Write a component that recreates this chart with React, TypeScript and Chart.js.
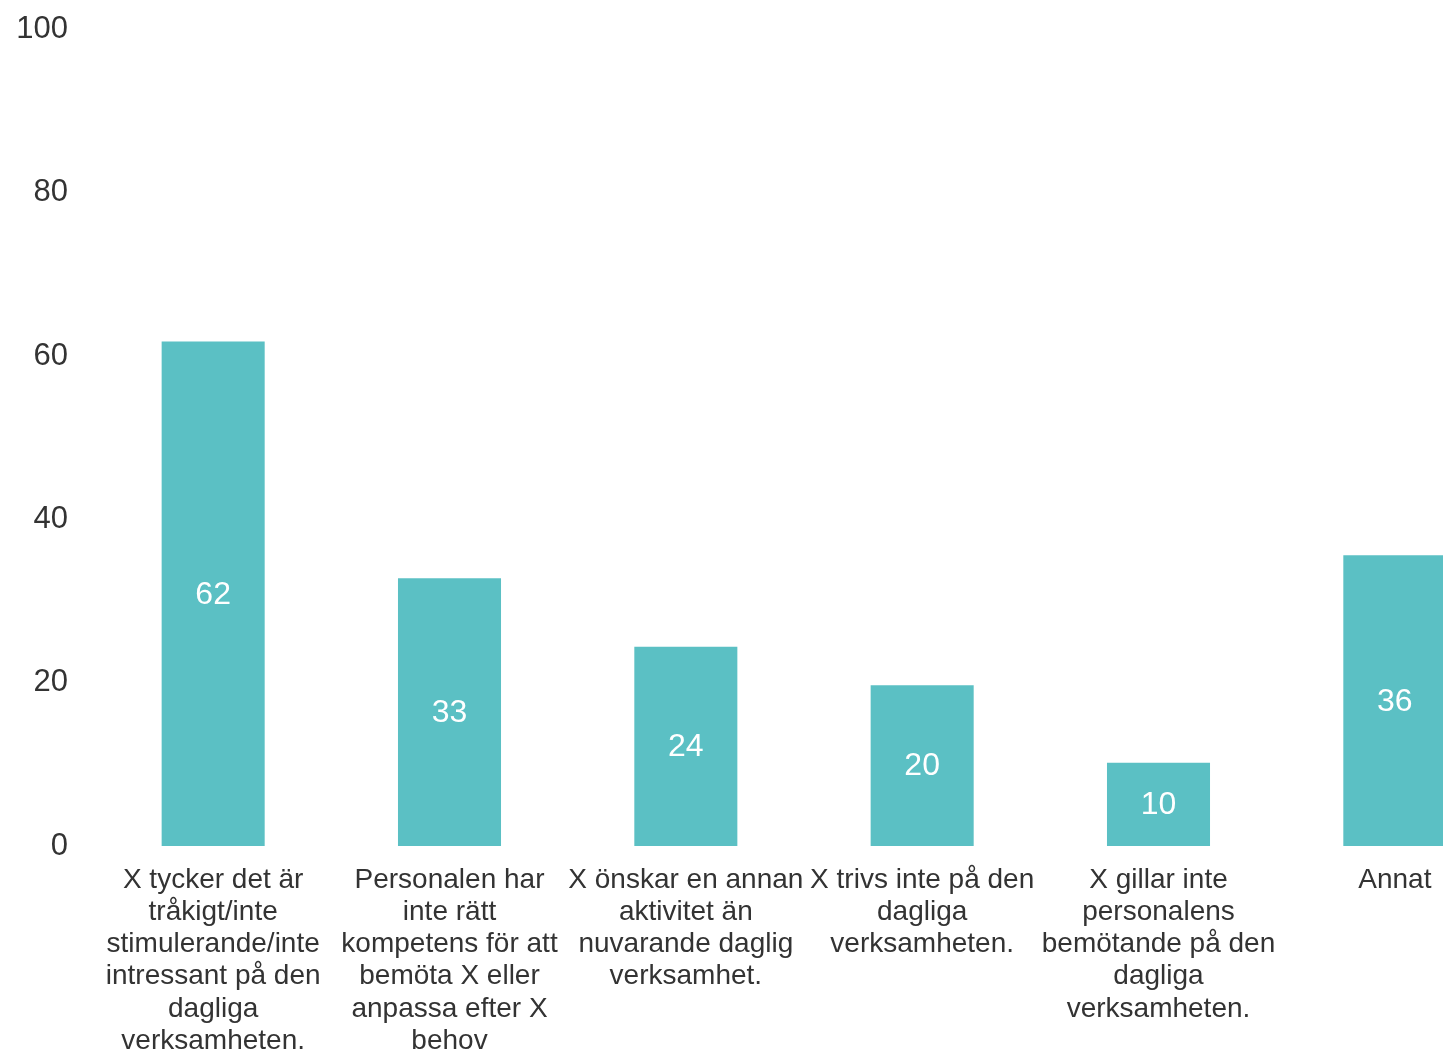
import React, { useEffect, useRef } from "react";
import { Chart, registerables } from "chart.js";

Chart.register(...registerables);

const categories: string[][] = [
  ["X tycker det är", "tråkigt/inte", "stimulerande/inte", "intressant på den", "dagliga", "verksamheten."],
  ["Personalen har", "inte rätt", "kompetens för att", "bemöta X eller", "anpassa efter X", "behov"],
  ["X önskar en annan", "aktivitet än", "nuvarande daglig", "verksamhet."],
  ["X trivs inte på den", "dagliga", "verksamheten."],
  ["X gillar inte", "personalens", "bemötande på den", "dagliga", "verksamheten."],
  ["Annat"],
];
const values: number[] = [61.8, 32.8, 24.4, 19.7, 10.2, 35.6];
const yTicks: number[] = [0, 20, 40, 60, 80, 100];

const FONT = "'Liberation Sans', Arial, Helvetica, sans-serif";
const TEXT = "#333333";
const BAR = "#5BC0C4";

const valueLabels = {
  id: "valueLabels",
  afterDatasetsDraw(chart: any) {
    const ctx = chart.ctx;
    const meta = chart.getDatasetMeta(0);
    ctx.save();
    ctx.fillStyle = "#ffffff";
    ctx.font = `32px ${FONT}`;
    ctx.textAlign = "center";
    ctx.textBaseline = "middle";
    meta.data.forEach((el: any, i: number) => {
      const y = (el.y + el.base) / 2;
      ctx.fillText(String(Math.round(values[i])), el.x, y + 1);
    });
    ctx.restore();
  },
};

export default function App() {
  const ref = useRef<HTMLCanvasElement>(null);
  useEffect(() => {
    if (!ref.current) return;
    const chart = new Chart(ref.current, {
      type: "bar",
      data: {
        labels: categories,
        datasets: [
          {
            data: values,
            backgroundColor: BAR,
            barPercentage: 0.436,
            categoryPercentage: 1,
          },
        ],
      },
      options: {
        responsive: false,
        animation: false,
        layout: { padding: { top: 1, left: 0, right: 0, bottom: 0 } },
        plugins: { legend: { display: false }, tooltip: { enabled: false } },
        scales: {
          x: {
            grid: { display: false },
            border: { display: false },
            ticks: {
              autoSkip: false,
              maxRotation: 0,
              minRotation: 0,
              color: TEXT,
              padding: 10,
              font: { family: FONT, size: 28, lineHeight: 1.15 },
            },
            afterFit: (scale: any) => {
              scale.height = 255;
            },
          },
          y: {
            min: 0,
            max: 100,
            afterBuildTicks: (scale: any) => {
              scale.ticks = yTicks.map((v) => ({ value: v }));
            },
            grid: { display: false },
            border: { display: false },
            ticks: {
              color: TEXT,
              padding: 19,
              font: { family: FONT, size: 31 },
            },
            afterFit: (scale: any) => {
              scale.width = 87;
            },
          },
        },
      },
      plugins: [valueLabels],
    });
    return () => chart.destroy();
  }, []);
  return (
    <div
      style={{
        position: "fixed",
        left: 0,
        top: 0,
        width: "100vw",
        height: "100vh",
        overflow: "hidden",
        background: "#ffffff",
      }}
    >
      <canvas
        ref={ref}
        width={1505}
        height={1109}
        style={{ display: "block", position: "absolute", left: 8, top: -8 }}
      />
    </div>
  );
}
